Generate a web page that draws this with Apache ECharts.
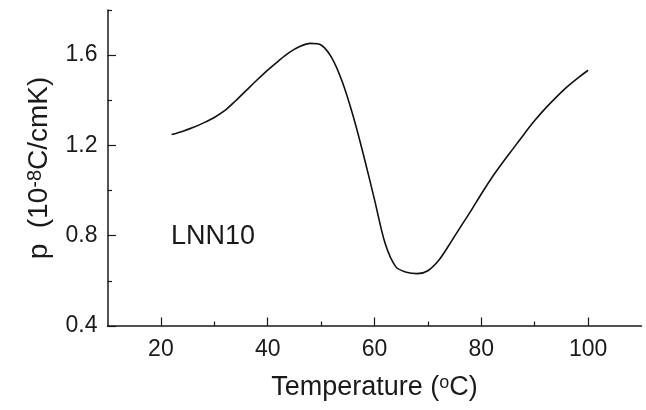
<!DOCTYPE html>
<html>
<head>
<meta charset="utf-8">
<script src="https://cdn.jsdelivr.net/npm/echarts@6/dist/echarts.min.js"></script>
<style>html,body{margin:0;padding:0;background:#fff}#c{width:646px;height:410px}</style>
</head>
<body>
<div id="c"></div>
<script>
var temperature = [22, 24, 26, 28, 30, 32, 34, 36, 38, 40, 42, 44, 46, 48, 50, 52, 54, 56, 58, 60, 62, 64, 66, 68, 70, 72, 74, 76, 78, 80, 82, 84, 86, 88, 90, 92, 94, 96, 98, 100];
var pyro = [1.248, 1.262, 1.279, 1.300, 1.324, 1.355, 1.398, 1.444, 1.490, 1.534, 1.574, 1.611, 1.638, 1.652, 1.645, 1.588, 1.480, 1.330, 1.152, 0.960, 0.765, 0.662, 0.638, 0.632, 0.645, 0.690, 0.760, 0.835, 0.908, 0.985, 1.058, 1.124, 1.187, 1.250, 1.310, 1.364, 1.413, 1.458, 1.497, 1.533];
var xMajorTicks = [20, 40, 60, 80, 100];
var xMinorTicks = [30, 50, 70, 90];
var yMajorTicks = [0.4, 0.8, 1.2, 1.6];
var yMinorTicks = [0.6, 1.0, 1.4, 1.8];
var sampleLabel = 'LNN10';

var FONT = 'Liberation Sans, Arial, Helvetica, sans-serif';
var INK = '#1a1a1a';
var chart = echarts.init(document.getElementById('c'));
var data = temperature.map(function (t, i) { return [t, pyro[i]]; });

chart.setOption({
  animation: false,
  backgroundColor: '#fff',
  grid: { left: 107.5, right: 4.5, top: 10, bottom: 84 },
  xAxis: [{
    type: 'value', min: 10, max: 110, position: 'bottom',
    axisLine: { show: true, lineStyle: { color: INK, width: 1.5 } },
    axisTick: { show: true, inside: true, length: 8.5, customValues: xMajorTicks, lineStyle: { color: INK, width: 1.2 } },
    axisLabel: { customValues: xMajorTicks, margin: 12, fontSize: 23, fontFamily: FONT, color: INK },
    splitLine: { show: false },
    name: 'Temperature ({sup|o}C)', nameLocation: 'middle', nameGap: 48,
    nameTextStyle: { fontSize: 27, fontFamily: FONT, color: INK,
      rich: { sup: { fontSize: 18, fontFamily: FONT, color: INK, verticalAlign: 'top' } } }
  }, {
    type: 'value', min: 10, max: 110, position: 'bottom',
    axisLine: { show: false },
    axisTick: { show: true, inside: true, length: 4.5, customValues: xMinorTicks, lineStyle: { color: INK, width: 1.2 } },
    axisLabel: { show: false }, splitLine: { show: false }
  }],
  yAxis: [{
    type: 'value', min: 0.4, max: 1.8, position: 'left',
    axisLine: { show: true, lineStyle: { color: INK, width: 1.5 } },
    axisTick: { show: true, inside: true, length: 8.5, customValues: yMajorTicks, lineStyle: { color: INK, width: 1.2 } },
    axisLabel: { customValues: yMajorTicks, margin: 10, fontSize: 23, fontFamily: FONT, color: INK,
      formatter: function (v) { return v.toFixed(1); } },
    splitLine: { show: false },
    name: 'p  (10{sup|-8}C/cmK)', nameLocation: 'middle', nameGap: 54, nameRotate: 90,
    nameTextStyle: { fontSize: 28, fontFamily: FONT, color: INK,
      rich: { sup: { fontSize: 20, fontFamily: FONT, color: INK, verticalAlign: 'top' } } }
  }, {
    type: 'value', min: 0.4, max: 1.8, position: 'left', offset: 0,
    axisLine: { show: false },
    axisTick: { show: true, inside: true, length: 4.5, customValues: yMinorTicks, lineStyle: { color: INK, width: 1.2 } },
    axisLabel: { show: false }, splitLine: { show: false }
  }],
  graphic: [{
    type: 'text', x: 171, y: 237,
    style: { text: sampleLabel, font: '27px ' + FONT, fill: INK, verticalAlign: 'middle', align: 'left' }
  }],
  series: [{
    type: 'line', xAxisIndex: 0, yAxisIndex: 0, data: data,
    smooth: 0.3, showSymbol: false, symbol: 'none',
    lineStyle: { color: '#111', width: 1.6 }
  }]
});
</script>
</body>
</html>
